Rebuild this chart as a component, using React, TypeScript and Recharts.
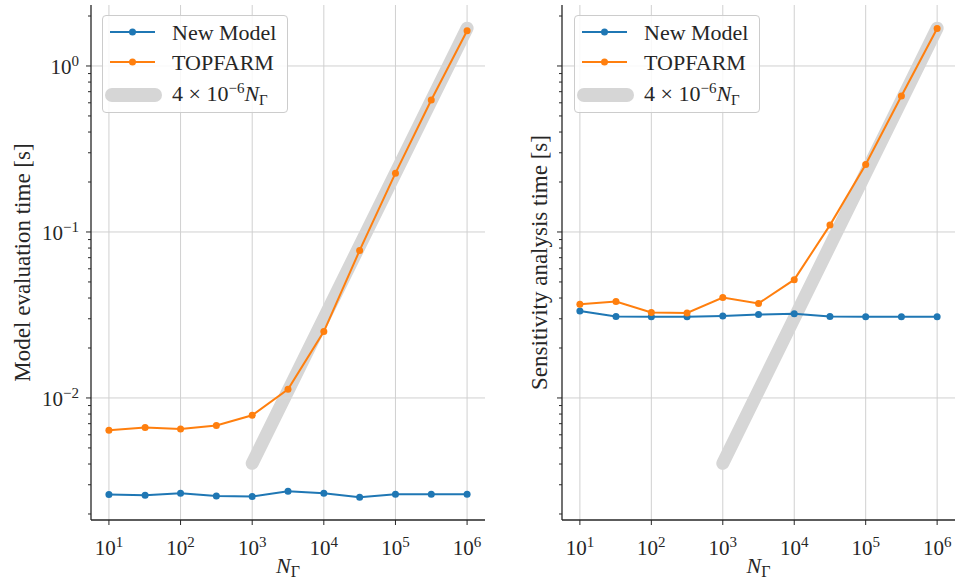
import { CartesianGrid, Line, LineChart, XAxis, YAxis } from 'recharts'

// problem size N_Gamma
const nGamma = [10, 32, 100, 316, 1000, 3162, 10000, 31623, 100000, 316228, 1000000]

// model evaluation time [s]
const evalNewModel = [0.00262, 0.00259, 0.00267, 0.00257, 0.00255, 0.00274, 0.00267, 0.00252, 0.00263, 0.00263, 0.00263]
const evalTopfarm = [0.00638, 0.00664, 0.0065, 0.00683, 0.00787, 0.01128, 0.0251, 0.0774, 0.226, 0.624, 1.63]

// sensitivity analysis time [s]
const sensNewModel = [0.0334, 0.031, 0.0308, 0.0308, 0.0312, 0.0318, 0.0322, 0.031, 0.0309, 0.0308, 0.0309]
const sensTopfarm = [0.0367, 0.0381, 0.0327, 0.0325, 0.0403, 0.0371, 0.0516, 0.11, 0.255, 0.659, 1.68]

// reference slope line
const fitN = [1000, 1000000]
const fitTime = [0.00404, 1.69]

const xTicks = [10, 100, 1000, 10000, 100000, 1000000]
const yMajorTicks = [0.01, 0.1, 1]
const yMinorTicks = [
  0.002, 0.003, 0.004, 0.005, 0.006, 0.007, 0.008, 0.009,
  0.02, 0.03, 0.04, 0.05, 0.06, 0.07, 0.08, 0.09,
  0.2, 0.3, 0.4, 0.5, 0.6, 0.7, 0.8, 0.9, 2,
]
const yTicks = [...yMinorTicks, ...yMajorTicks].sort((a, b) => a - b)

const xDomain = [5.62, 1778279]
const yDomain = [0.00184, 2.33]

const BLUE = '#1f77b4'
const ORANGE = '#ff7f0e'
const FIT = '#d6d6d6'
const INK = '#262626'
const GRID = '#d0d0d0'
const FONT = '"Liberation Serif", "DejaVu Serif", serif'

function toRows(xs: number[], ys: number[]) {
  return xs.map((n, i) => ({ n, t: ys[i] }))
}

function expText(v: number): string {
  const e = Math.round(Math.log10(v))
  return e < 0 ? `\u2212${-e}` : String(e)
}

function XTick(props: any) {
  const { x, y, payload } = props
  return (
    <text x={x} y={y + 30} textAnchor="middle" fontFamily={FONT} fontSize={21} fill={INK}>
      10
      <tspan dy={-8} fontSize={15}>
        {expText(payload.value)}
      </tspan>
    </text>
  )
}

function YTick(props: any) {
  const { x, y, payload, showLabels } = props
  const major = yMajorTicks.includes(payload.value)
  const len = major ? 5 : 3
  return (
    <g>
      <line x1={x - len} x2={x} y1={y} y2={y} stroke={INK} strokeWidth={1} />
      {major && showLabels && (
        <text x={x - 12} y={y + 8} textAnchor="end" fontFamily={FONT} fontSize={21} fill={INK}>
          10
          <tspan dy={-8} fontSize={15}>
            {expText(payload.value)}
          </tspan>
        </text>
      )}
    </g>
  )
}

function YTitle(props: any) {
  const { viewBox, title, left } = props
  const vb = viewBox || { x: 0, y: 5, width: 91, height: 515 }
  const cx = vb.x + left
  const cy = vb.y + vb.height / 2
  return (
    <text
      x={cx}
      y={cy}
      transform={`rotate(-90 ${cx} ${cy})`}
      textAnchor="middle"
      dominantBaseline="central"
      fontFamily={FONT}
      fontSize={23}
      fill={INK}
    >
      {title}
    </text>
  )
}

function XTitle(props: any) {
  const { viewBox } = props
  const vb = viewBox || { x: 91, y: 520, width: 394, height: 59 }
  const cx = vb.x + vb.width / 2
  return (
    <text x={cx} y={vb.y + 53} textAnchor="middle" fontFamily={FONT} fontSize={22} fill={INK}>
      <tspan fontStyle="italic">N</tspan>
      <tspan dy={4} fontSize={16}>
        Γ
      </tspan>
    </text>
  )
}

function LegendBox({ left }: { left: number }) {
  return (
    <div
      style={{
        position: 'absolute',
        left,
        top: 15,
        width: 186,
        height: 98,
        boxSizing: 'border-box',
        border: '1px solid #cccccc',
        borderRadius: 4,
        background: 'rgba(255,255,255,0.85)',
      }}
    >
      <svg width={184} height={96} style={{ display: 'block' }}>
        <line x1={7} x2={52} y1={16} y2={16} stroke={BLUE} strokeWidth={2} />
        <circle cx={29.5} cy={16} r={3.5} fill={BLUE} />
        <text x={69} y={24} fontFamily={FONT} fontSize={22} fill={INK}>
          New Model
        </text>
        <line x1={7} x2={52} y1={46} y2={46} stroke={ORANGE} strokeWidth={2} />
        <circle cx={29.5} cy={46} r={3.5} fill={ORANGE} />
        <text x={69} y={54} fontFamily={FONT} fontSize={22} fill={INK}>
          TOPFARM
        </text>
        <line x1={9} x2={52} y1={79} y2={79} stroke={FIT} strokeWidth={14} strokeLinecap="round" />
        <text x={69} y={85} fontFamily={FONT} fontSize={22} fill={INK}>
          4 × 10
          <tspan dy={-8} fontSize={15}>
            −6
          </tspan>
          <tspan dy={8} fontStyle="italic">
            N
          </tspan>
          <tspan dy={4} fontSize={15}>
            Γ
          </tspan>
        </text>
      </svg>
    </div>
  )
}

function Panel({
  width,
  axisWidth,
  newModel,
  topfarm,
  title,
  titleLeft,
  showYLabels,
}: {
  width: number
  axisWidth: number
  newModel: number[]
  topfarm: number[]
  title: string
  titleLeft: number
  showYLabels: boolean
}) {
  return (
    <LineChart width={width} height={579} margin={{ top: 5, right: 0, bottom: 0, left: 0 }}>
      <CartesianGrid
        stroke={GRID}
        strokeWidth={1}
        horizontalValues={yMajorTicks}
        verticalValues={xTicks}
      />
      <XAxis
        dataKey="n"
        type="number"
        scale="log"
        domain={xDomain}
        allowDataOverflow
        ticks={xTicks}
        interval={0}
        height={59}
        tickSize={5}
        tickMargin={0}
        stroke={INK}
        axisLine={{ stroke: INK, strokeWidth: 1.3 }}
        tickLine={{ stroke: INK, strokeWidth: 1 }}
        tick={<XTick />}
        label={<XTitle />}
      />
      <YAxis
        dataKey="t"
        type="number"
        scale="log"
        domain={yDomain}
        allowDataOverflow
        ticks={yTicks}
        interval={0}
        width={axisWidth}
        tickSize={0}
        tickMargin={0}
        tickLine={false}
        axisLine={{ stroke: INK, strokeWidth: 1.3 }}
        tick={(p: any) => <YTick {...p} showLabels={showYLabels} />}
        label={<YTitle title={title} left={titleLeft} />}
      />
      <Line
        data={toRows(fitN, fitTime)}
        dataKey="t"
        stroke={FIT}
        strokeWidth={13}
        strokeLinecap="round"
        dot={false}
        activeDot={false}
        isAnimationActive={false}
      />
      <Line
        data={toRows(nGamma, newModel)}
        dataKey="t"
        stroke={BLUE}
        strokeWidth={2}
        dot={{ r: 3.5, fill: BLUE, stroke: BLUE, strokeWidth: 0 }}
        activeDot={false}
        isAnimationActive={false}
      />
      <Line
        data={toRows(nGamma, topfarm)}
        dataKey="t"
        stroke={ORANGE}
        strokeWidth={2}
        dot={{ r: 3.5, fill: ORANGE, stroke: ORANGE, strokeWidth: 0 }}
        activeDot={false}
        isAnimationActive={false}
      />
    </LineChart>
  )
}

export default function App() {
  return (
    <div style={{ position: 'absolute', left: 0, top: 0, width: 955, height: 579, background: '#fff' }}>
      <div style={{ position: 'absolute', left: 0, top: 0 }}>
        <Panel
          width={485}
          axisWidth={91}
          newModel={evalNewModel}
          topfarm={evalTopfarm}
          title="Model evaluation time [s]"
          titleLeft={22}
          showYLabels
        />
      </div>
      <div style={{ position: 'absolute', left: 485, top: 0 }}>
        <Panel
          width={470}
          axisWidth={77}
          newModel={sensNewModel}
          topfarm={sensTopfarm}
          title="Sensitivity analysis time [s]"
          titleLeft={54}
          showYLabels={false}
        />
      </div>
      <LegendBox left={102} />
      <LegendBox left={574} />
    </div>
  )
}
